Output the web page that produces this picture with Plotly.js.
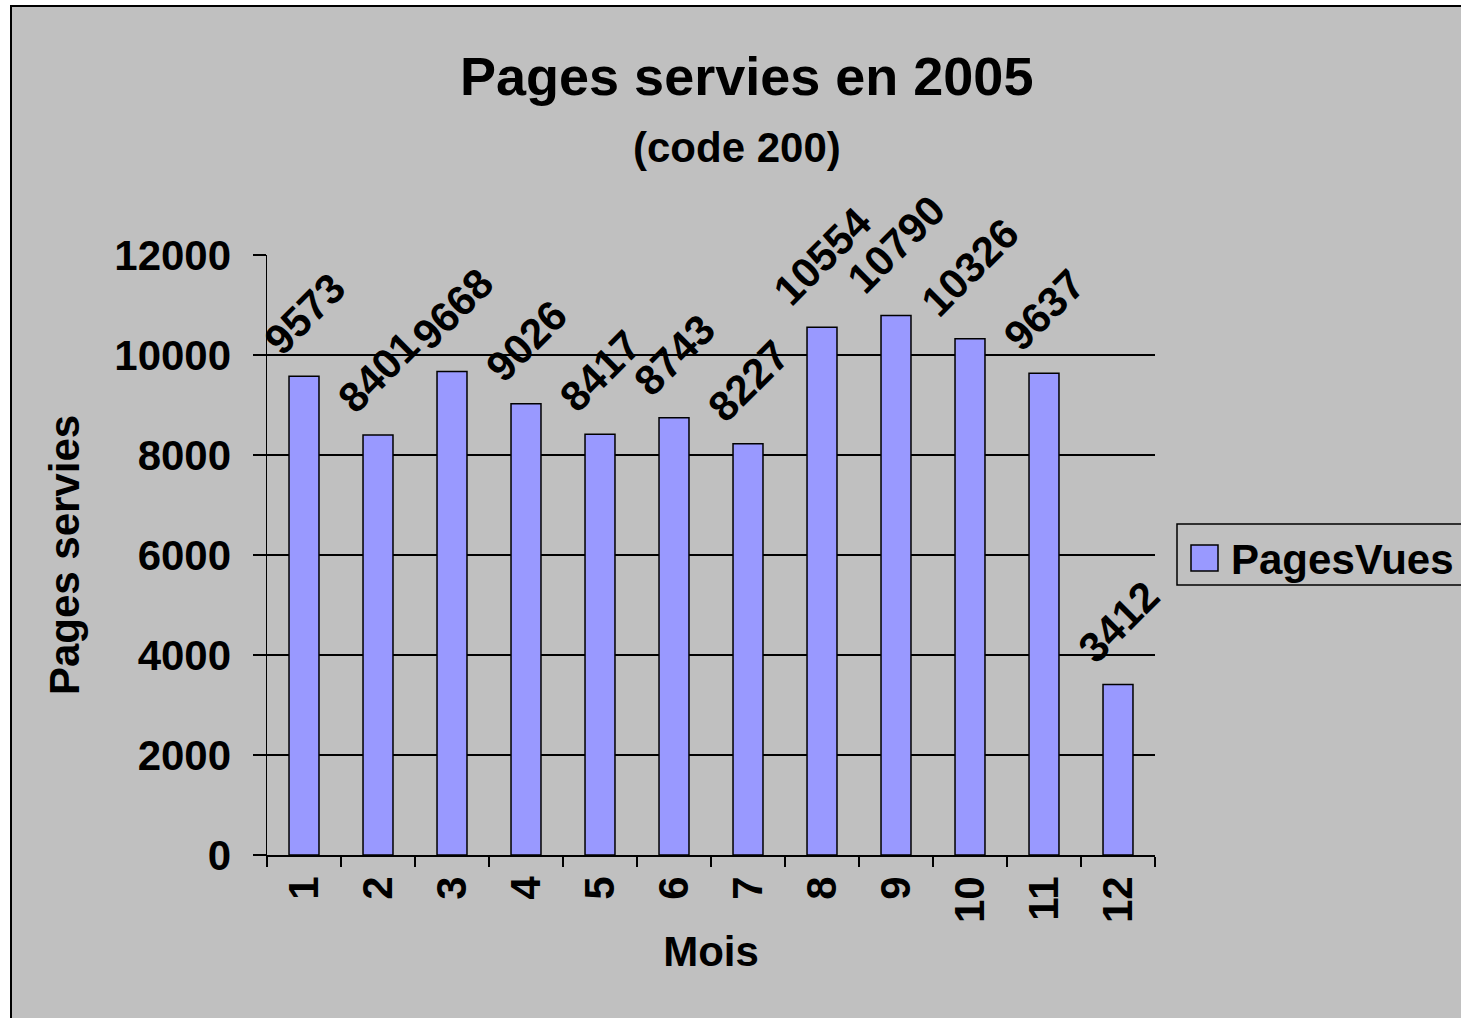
<!DOCTYPE html>
<html>
<head>
<meta charset="utf-8">
<script src="https://cdn.plot.ly/plotly-3.0.1.min.js"></script>
<style>
  html, body { margin: 0; padding: 0; background: #C0C0C0; overflow: hidden; }
  #wleft { position: absolute; left: 0; top: 0; width: 10px; height: 1018px; background: #fff; }
  #wtop { position: absolute; left: 0; top: 0; width: 1461px; height: 5px; background: #fff; }
  #bleft { position: absolute; left: 10px; top: 5px; width: 2px; height: 1013px; background: #000; }
  #btop { position: absolute; left: 10px; top: 5px; width: 1451px; height: 2px; background: #000; }
  #chart { position: absolute; left: 0; top: 0; width: 1461px; height: 1018px; }
</style>
</head>
<body>
<div id="wleft"></div><div id="wtop"></div><div id="bleft"></div><div id="btop"></div>
<div id="chart"></div>
<script>
// ---- data ----
const months = ['1','2','3','4','5','6','7','8','9','10','11','12'];
const pagesVues = [9573, 8401, 9668, 9026, 8417, 8743, 8227, 10554, 10790, 10326, 9637, 3412];
const seriesName = 'PagesVues';
const chartTitle = 'Pages servies en 2005';
const chartSubtitle = '(code 200)';
const xTitle = 'Mois';
const yTitle = 'Pages servies';
const yTicks = [0, 2000, 4000, 6000, 8000, 10000, 12000];

// ---- layout helpers (plot area in px) ----
const W = 1461, H = 1018;
const L = 267, R = 1155, T = 255, B = 855;
const px2x = p => (p - L) / (R - L);
const px2y = p => (B - p) / (B - T);

const FONT = 'Arial, "Liberation Sans", sans-serif';
const FS = 42;

const trace = {
  type: 'bar',
  x: months,
  y: pagesVues,
  name: seriesName,
  marker: { color: '#9999FF', line: { color: '#000000', width: 1.5 } },
  width: 0.405,
  showlegend: false,
  hoverinfo: 'x+y'
};

// data labels: x given as category index on the category axis
const labelAnnotations = months.map((m, i) => ({
  x: i, y: pagesVues[i], xref: 'x', yref: 'y',
  text: String(pagesVues[i]),
  showarrow: false, textangle: -45,
  xanchor: 'center', yanchor: 'bottom', yshift: 10,
  font: { family: FONT, size: FS, weight: 'bold', color: '#000' }
}));

const annotations = labelAnnotations.concat([
  { xref: 'paper', yref: 'paper', x: px2x(746), y: px2y(76), text: chartTitle, showarrow: false,
    xanchor: 'center', yanchor: 'middle', font: { family: FONT, size: 54, weight: 'bold', color: '#000' } },
  { xref: 'paper', yref: 'paper', x: px2x(737), y: px2y(147), text: chartSubtitle, showarrow: false,
    xanchor: 'center', yanchor: 'middle', font: { family: FONT, size: FS, weight: 'bold', color: '#000' } },
  { xref: 'paper', yref: 'paper', x: px2x(1229), y: px2y(559), text: seriesName, showarrow: false,
    xanchor: 'left', yanchor: 'middle', font: { family: FONT, size: FS, weight: 'bold', color: '#000' } }
]);

const shapes = [
  // legend box
  { type: 'rect', xref: 'paper', yref: 'paper', x0: px2x(1177), x1: px2x(1480), y0: px2y(585), y1: px2y(524),
    line: { color: '#000', width: 1.5 }, fillcolor: 'rgba(0,0,0,0)' },
  // legend swatch
  { type: 'rect', xref: 'paper', yref: 'paper', x0: px2x(1191), x1: px2x(1218), y0: px2y(571), y1: px2y(545),
    line: { color: '#000', width: 1.5 }, fillcolor: '#9999FF' }
];

const layout = {
  width: W, height: H, autosize: false,
  margin: { l: L, r: W - R, t: T, b: H - B, pad: 0 },
  paper_bgcolor: 'rgba(0,0,0,0)',
  plot_bgcolor: 'rgba(0,0,0,0)',
  font: { family: FONT, color: '#000' },
  showlegend: false,
  bargap: 0.595,
  xaxis: {
    type: 'category', range: [-0.5, 11.5], fixedrange: true,
    tickson: 'boundaries', ticks: 'outside', ticklen: 10, tickwidth: 1.5, tickcolor: '#000',
    showline: true, linecolor: '#000', linewidth: 1.5, showgrid: false, zeroline: false,
    tickangle: -90, tickfont: { family: FONT, size: FS, weight: 'bold', color: '#000' },
    ticklabelstandoff: 3,
    automargin: false,
    title: { text: xTitle, font: { family: FONT, size: FS, weight: 'bold', color: '#000' }, standoff: 14 }
  },
  yaxis: {
    range: [0, 12000], fixedrange: true,
    tickmode: 'array', tickvals: yTicks, ticktext: yTicks.map(String),
    ticks: 'outside', ticklen: 13, tickwidth: 1.5, tickcolor: '#000',
    showline: true, linecolor: '#000', linewidth: 1.5,
    showgrid: true, gridcolor: '#000', gridwidth: 1.2, zeroline: false,
    tickfont: { family: FONT, size: FS, weight: 'bold', color: '#000' },
    ticklabelstandoff: 13,
    automargin: false,
    title: { text: yTitle, font: { family: FONT, size: FS, weight: 'bold', color: '#000' }, standoff: 21 }
  },
  annotations: annotations,
  shapes: shapes
};

Plotly.newPlot('chart', [trace], layout, { displayModeBar: false, staticPlot: true });
</script>
</body>
</html>
